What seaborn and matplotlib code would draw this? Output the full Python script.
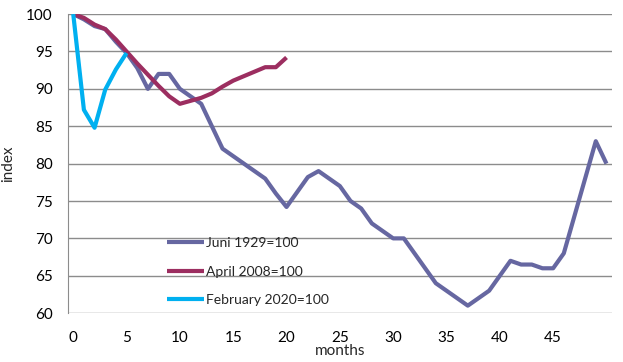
import matplotlib
matplotlib.use("Agg")
import matplotlib.pyplot as plt
import seaborn as sns
import pandas as pd

# index values, month 0 = 100
juni_1929 = [100, 99.3, 98.4, 98.0, 96.3, 94.8, 92.8, 90.0, 92.0, 92.0,
             90.0, 89.0, 88.0, 85.0, 82.0, 81.0, 80.0, 79.0, 78.0, 76.0,
             74.2, 76.2, 78.2, 79.0, 78.0, 77.0, 75.0, 74.0, 72.0, 71.0,
             70.0, 70.0, 68.0, 66.0, 64.0, 63.0, 62.0, 61.0, 62.0, 63.0,
             65.0, 67.0, 66.5, 66.5, 66.0, 66.0, 68.0, 73.0, 78.0, 83.0,
             80.0]
april_2008 = [100, 99.5, 98.6, 98.0, 96.6, 95.0, 93.4, 91.9, 90.4, 89.0,
              88.0, 88.4, 88.8, 89.4, 90.3, 91.1, 91.7, 92.3, 92.9, 92.9,
              94.2]
feb_2020 = [100, 87.2, 84.8, 89.9, 92.6, 94.8]

labels = ["Juni 1929=100", "April 2008=100", "February 2020=100"]
colors = ["#6667A1", "#9C2E60", "#00B0F0"]

frames = []
for name, vals in zip(labels, [juni_1929, april_2008, feb_2020]):
    frames.append(pd.DataFrame({"months": range(len(vals)), "index": vals, "series": name}))
df = pd.concat(frames, ignore_index=True)

sns.set_style("white")
plt.rcParams["font.family"] = ["Lato", "DejaVu Sans"]

fig = plt.figure(figsize=(6.23, 3.62), dpi=100)
ax = fig.add_axes([0.109, 0.135, 0.873, 0.826])

sns.lineplot(data=df, x="months", y="index", hue="series", hue_order=labels,
             palette=colors, linewidth=3, ax=ax, legend=True,
             solid_capstyle="butt")

ax.set_xlim(-0.5, 50.5)
ax.set_ylim(60, 100)
ax.set_xticks(range(0, 50, 5))
ax.set_yticks(range(60, 101, 5))
ax.yaxis.grid(True, color="#8c8c8c", linewidth=1)
ax.xaxis.grid(False)
for side in ["top", "right", "bottom"]:
    ax.spines[side].set_visible(False)
ax.spines["left"].set_color("#8c8c8c")
ax.tick_params(axis="both", length=0, labelsize=11, labelcolor="black")
ax.tick_params(axis="x", pad=13)
ax.tick_params(axis="y", pad=11)
ax.set_xlabel("months", fontsize=11, labelpad=-1)
ax.set_ylabel("index", fontsize=11, labelpad=8)

ax.legend(frameon=False, loc="upper left", bbox_to_anchor=(0.182, 0.255),
          borderpad=0, borderaxespad=0, handlelength=2.7, handletextpad=0.15,
          labelspacing=1.2, fontsize=10)

fig.savefig("out.png", dpi=100)
